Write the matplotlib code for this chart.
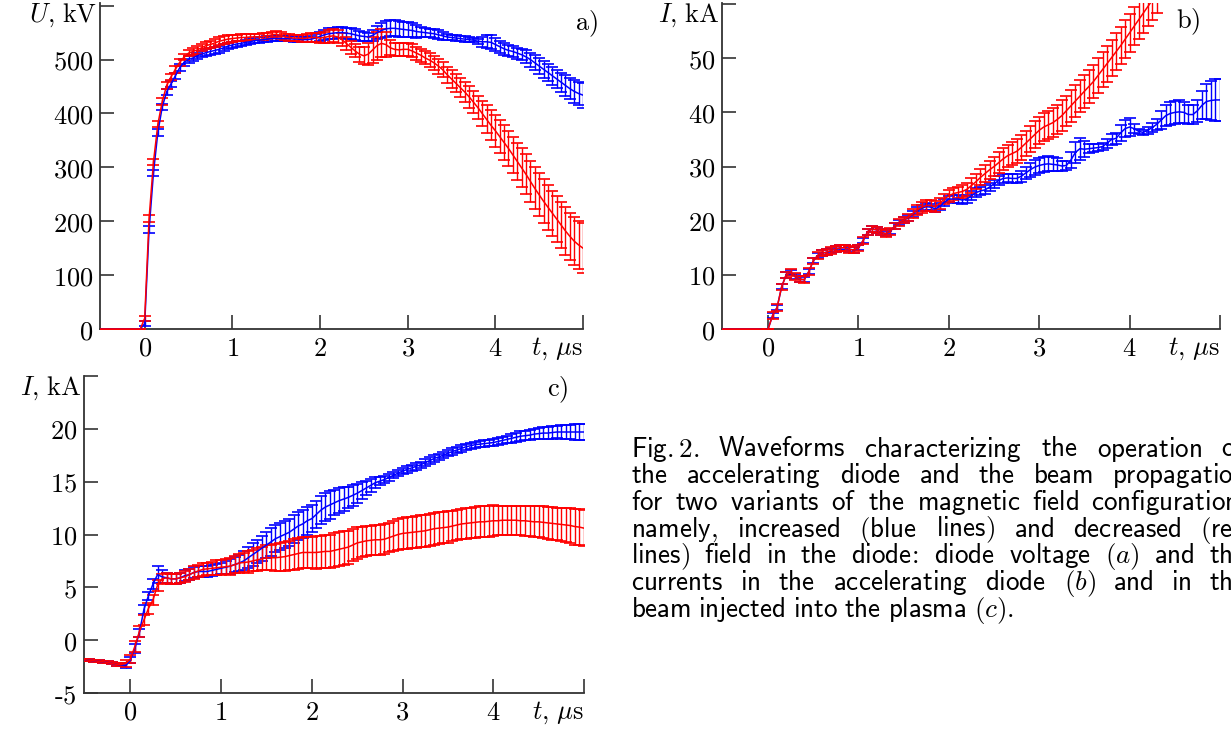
import re
import numpy as np
import matplotlib
matplotlib.use('Agg')
import matplotlib.pyplot as plt

plt.rcParams['mathtext.fontset'] = 'cm'
plt.rcParams['font.family'] = 'DejaVu Serif'

# time grid, microseconds (-0.65 ... 5.0, step 0.05)
t = np.round(np.arange(-0.65, 5.001, 0.05), 2)

# a) diode voltage, kV
u_blue = [0, 0, 0, 0, 0, 0, 0, 0, 0, 0, 0, 0, 0, 10,
          185, 290, 365, 412, 440, 455, 470, 485, 495, 500,
          503, 507, 510, 513, 515, 517, 519, 522, 525, 527,
          529, 530, 532, 533, 535, 536, 537, 538, 539, 539,
          539, 539, 539, 538, 538, 537, 537, 538, 540, 543,
          546, 548, 549, 550, 550, 549, 548, 546, 544, 543,
          542, 545, 550, 554, 557, 558, 558, 557, 556, 555,
          554, 552, 551, 550, 549, 548, 546, 544, 542, 541,
          540, 539, 538, 537, 536, 534, 533, 533, 532, 528,
          524, 520, 517, 515, 512, 509, 505, 500, 494, 488,
          482, 476, 470, 464, 458, 452, 446, 441, 437, 434]
u_blue_err = [0, 0, 0, 0, 0, 0, 0, 0, 0, 0, 0, 0, 0, 4,
              6, 6, 6, 6, 6, 6, 6, 6, 6, 6,
              6, 6, 6, 6, 6, 6, 6, 6, 6, 6,
              5, 5, 5, 5, 5, 5, 5, 5, 5, 5,
              5, 5, 5, 5, 5, 5, 5, 6, 7, 8,
              9, 10, 10, 10, 10, 10, 10, 10, 9, 8,
              8, 10, 12, 14, 15, 15, 15, 15, 14, 14,
              13, 12, 9, 8, 8, 8, 8, 8, 6, 5,
              5, 5, 5, 4, 4, 5, 9, 12, 13, 12,
              11, 11, 10, 10, 10, 10, 12, 13, 14, 15,
              16, 16, 17, 17, 18, 19, 20, 21, 22, 23]
u_red = [0, 0, 0, 0, 0, 0, 0, 0, 0, 0, 0, 0, 0, 20,
         205, 310, 380, 422, 452, 468, 482, 495, 505, 512,
         515, 518, 522, 526, 528, 531, 534, 536, 538, 539,
         540, 541, 541, 542, 542, 542, 543, 544, 546, 547,
         545, 542, 541, 540, 540, 539, 540, 541, 541, 540,
         541, 543, 544, 542, 537, 530, 523, 516, 510, 507,
         510, 518, 526, 530, 528, 522, 519, 518, 519, 519,
         516, 512, 508, 503, 499, 494, 488, 481, 472, 464,
         456, 448, 440, 431, 421, 411, 400, 389, 378, 368,
         357, 346, 335, 323, 311, 299, 287, 274, 261, 249,
         237, 226, 215, 204, 193, 182, 172, 163, 156, 150]
u_red_err = [0, 0, 0, 0, 0, 0, 0, 0, 0, 0, 0, 0, 0, 5,
             6, 6, 6, 6, 6, 6, 6, 6, 6, 6,
             7, 7, 7, 7, 7, 7, 7, 7, 7, 7,
             6, 6, 6, 6, 6, 6, 6, 6, 6, 6,
             6, 6, 6, 6, 6, 6, 7, 8, 9, 10,
             11, 12, 12, 12, 12, 12, 12, 12, 14, 16,
             20, 24, 26, 26, 24, 14, 12, 12, 12, 12,
             12, 12, 12, 12, 13, 13, 14, 14, 15, 16,
             17, 18, 19, 20, 21, 22, 24, 26, 28, 30,
             31, 32, 33, 34, 35, 36, 37, 38, 39, 40,
             41, 42, 42, 43, 43, 44, 44, 45, 45, 46]

# b) diode current, kA
ib_blue = [0, 0, 0, 0, 0, 0, 0, 0, 0, 0, 0, 0, -0.2, 0.0,
           2.5, 4.0, 7.8, 10.0, 10.4, 9.7, 9.2, 9.1, 10.6, 12.6,
           13.6, 14.0, 14.2, 14.5, 14.8, 15.0, 15.0, 14.7, 14.6, 15.0,
           16.3, 17.9, 18.5, 18.3, 17.9, 17.6, 18.0, 19.0, 19.7, 20.1,
           20.5, 21.2, 21.9, 22.3, 22.6, 22.5, 22.2, 22.6, 23.4, 24.0,
           24.0, 24.0, 23.8, 24.0, 24.6, 25.2, 25.5, 25.7, 26.2, 26.8,
           27.4, 27.8, 27.9, 27.8, 27.8, 28.2, 28.8, 29.4, 29.9, 30.2,
           30.4, 30.5, 30.4, 30.3, 30.1, 30.2, 31.2, 32.6, 33.3, 33.2,
           33.3, 33.4, 33.5, 33.7, 34.3, 35.0, 35.2, 36.2, 37.0, 37.3,
           37.0, 36.5, 36.3, 36.7, 37.2, 37.8, 38.6, 39.4, 39.8, 40.0,
           40.1, 40.0, 39.6, 39.6, 40.3, 41.3, 42.0, 42.2, 42.3, 42.3]
ib_blue_err = [0, 0, 0, 0, 0, 0, 0, 0, 0, 0, 0, 0, 0, 0,
               0.5, 0.5, 0.5, 0.5, 0.5, 0.5, 0.5, 0.5, 0.5, 0.5,
               0.5, 0.5, 0.5, 0.5, 0.5, 0.5, 0.5, 0.5, 0.5, 0.5,
               0.5, 0.5, 0.5, 0.5, 0.5, 0.5, 0.5, 0.5, 0.5, 0.5,
               0.6, 0.6, 0.6, 0.6, 0.6, 0.6, 0.6, 0.6, 0.6, 0.6,
               0.7, 0.7, 0.7, 0.7, 0.8, 0.8, 0.8, 0.8, 0.8, 0.8,
               0.8, 0.8, 0.8, 0.8, 0.9, 1.0, 1.1, 1.3, 1.4, 1.4,
               1.4, 1.4, 1.3, 1.2, 1.0, 0.8, 1.5, 2.0, 2.0, 1.5,
               0.8, 0.7, 0.7, 0.7, 0.8, 1.0, 1.0, 1.4, 1.6, 1.6,
               0.8, 0.5, 0.5, 0.6, 0.8, 1.0, 1.6, 2.0, 2.1, 2.1,
               2.1, 2.0, 1.8, 1.8, 2.0, 2.6, 3.2, 3.6, 3.8, 3.8]
nan = np.nan
ib_red = [0, 0, 0, 0, 0, 0, 0, 0, 0, 0, 0, 0, -0.2, 0.0,
          2.5, 4.0, 7.8, 10.0, 10.4, 9.7, 9.2, 9.1, 10.6, 12.6,
          13.6, 14.0, 14.2, 14.5, 14.8, 15.0, 15.0, 14.7, 14.6, 15.0,
          16.3, 17.9, 18.5, 18.3, 17.9, 17.6, 18.0, 19.0, 19.7, 20.1,
          20.6, 21.3, 22.0, 22.5, 22.8, 22.8, 22.6, 23.2, 24.0, 24.6,
          25.0, 25.2, 25.4, 25.8, 26.5, 27.2, 28.0, 28.7, 29.4, 30.0,
          30.7, 31.4, 32.0, 32.4, 32.8, 33.5, 34.3, 35.1, 35.9, 36.7,
          37.3, 37.7, 38.1, 38.7, 39.4, 40.3, 41.2, 42.1, 43.0, 43.9,
          44.8, 45.7, 46.8, 47.9, 49.0, 50.1, 51.2, 52.3, 53.5, 54.7,
          55.9, 57.1, 58.3, 59.5, 60.7, 61.9, nan, nan, nan, nan,
          nan, nan, nan, nan, nan, nan, nan, nan, nan, nan]
ib_red_err = [0, 0, 0, 0, 0, 0, 0, 0, 0, 0, 0, 0, 0, 0,
              0.6, 0.6, 0.6, 0.6, 0.6, 0.6, 0.6, 0.6, 0.6, 0.6,
              0.6, 0.6, 0.6, 0.6, 0.6, 0.6, 0.6, 0.6, 0.6, 0.6,
              0.6, 0.6, 0.6, 0.6, 0.6, 0.6, 0.6, 0.6, 0.6, 0.6,
              0.7, 0.8, 0.9, 1.0, 1.0, 1.0, 1.0, 1.0, 1.0, 1.1,
              1.1, 1.1, 1.2, 1.2, 1.3, 1.4, 1.5, 1.6, 1.7, 1.8,
              1.9, 2.0, 2.0, 2.1, 2.2, 2.3, 2.3, 2.4, 2.5, 2.5,
              2.6, 2.6, 2.7, 2.7, 2.8, 2.8, 2.9, 2.9, 3.0, 3.0,
              3.1, 3.1, 3.2, 3.2, 3.3, 3.3, 3.4, 3.4, 3.5, 3.5,
              3.5, 3.5, 3.6, 3.6, 3.6, 3.6, nan, nan, nan, nan,
              nan, nan, nan, nan, nan, nan, nan, nan, nan, nan]

# c) beam current injected into the plasma, kA
ic_blue = [-1.8, -1.8, -1.85, -1.85, -1.9, -1.95, -2.0, -2.05, -2.1, -2.2, -2.3, -2.35, -2.4, -1.9,
           -0.8, 0.7, 2.9, 4.2, 5.3, 6.2, 6.0, 5.9, 5.8, 5.8,
           5.9, 6.1, 6.2, 6.4, 6.5, 6.5, 6.5, 6.6, 6.7, 6.8,
           6.9, 7.0, 7.15, 7.3, 7.5, 7.8, 8.1, 8.4, 8.7, 9.0,
           9.3, 9.6, 9.8, 10.0, 10.2, 10.5, 10.8, 11.0, 11.3, 11.5,
           11.9, 12.3, 12.6, 12.8, 13.0, 13.2, 13.35, 13.5, 13.7, 13.9,
           14.15, 14.4, 14.65, 14.9, 15.05, 15.2, 15.4, 15.6, 15.8, 16.0,
           16.15, 16.3, 16.45, 16.6, 16.8, 17.0, 17.2, 17.35, 17.5, 17.7,
           17.85, 18.0, 18.15, 18.3, 18.4, 18.5, 18.55, 18.6, 18.65, 18.7,
           18.8, 18.9, 19.0, 19.1, 19.2, 19.3, 19.35, 19.4, 19.5, 19.55,
           19.6, 19.6, 19.65, 19.7, 19.7, 19.7, 19.7, 19.7, 19.7, 19.7]
ic_blue_err = [0.1, 0.1, 0.1, 0.1, 0.1, 0.1, 0.1, 0.1, 0.1, 0.1, 0.1, 0.1, 0.2, 0.3,
               0.4, 0.4, 0.4, 0.4, 0.5, 0.8, 0.6, 0.5, 0.5, 0.5,
               0.5, 0.5, 0.5, 0.5, 0.5, 0.5, 0.5, 0.5, 0.5, 0.5,
               0.6, 0.7, 0.7, 0.8, 0.9, 1.0, 1.1, 1.1, 1.2, 1.2,
               1.3, 1.3, 1.3, 1.3, 1.3, 1.3, 1.3, 1.3, 1.3, 1.3,
               1.3, 1.3, 1.3, 1.3, 1.2, 1.2, 1.1, 1.0, 1.0, 0.9,
               0.8, 0.7, 0.6, 0.5, 0.4, 0.35, 0.3, 0.3, 0.3, 0.3,
               0.3, 0.3, 0.3, 0.3, 0.3, 0.3, 0.3, 0.3, 0.3, 0.3,
               0.3, 0.3, 0.3, 0.3, 0.3, 0.3, 0.3, 0.3, 0.3, 0.3,
               0.3, 0.35, 0.35, 0.4, 0.4, 0.45, 0.45, 0.5, 0.5, 0.5,
               0.55, 0.55, 0.6, 0.6, 0.65, 0.7, 0.7, 0.75, 0.75, 0.75]
ic_red = [-1.8, -1.8, -1.85, -1.85, -1.9, -1.95, -2.0, -2.05, -2.1, -2.2, -2.3, -2.3, -2.2, -1.8,
          -0.6, 0.8, 1.9, 3.0, 3.8, 5.2, 5.8, 5.9, 5.8, 5.8,
          5.9, 6.0, 6.2, 6.4, 6.55, 6.7, 6.75, 6.8, 6.85, 6.9,
          6.95, 7.0, 7.15, 7.3, 7.35, 7.4, 7.5, 7.6, 7.7, 7.8,
          7.8, 7.8, 7.85, 7.9, 8.0, 8.1, 8.2, 8.3, 8.3, 8.3,
          8.3, 8.35, 8.4, 8.4, 8.5, 8.6, 8.7, 8.8, 9.0, 9.2,
          9.3, 9.4, 9.45, 9.5, 9.5, 9.55, 9.7, 9.85, 10.0, 10.1,
          10.15, 10.2, 10.25, 10.3, 10.35, 10.45, 10.55, 10.6, 10.65, 10.7,
          10.8, 10.9, 11.0, 11.05, 11.1, 11.15, 11.2, 11.2, 11.25, 11.3,
          11.3, 11.35, 11.35, 11.35, 11.35, 11.3, 11.3, 11.25, 11.2, 11.2,
          11.15, 11.1, 11.05, 11.0, 10.95, 10.9, 10.85, 10.75, 10.7, 10.6]
ic_red_err = [0.1, 0.1, 0.1, 0.1, 0.1, 0.1, 0.1, 0.1, 0.1, 0.1, 0.1, 0.1, 0.3, 0.4,
              0.5, 0.5, 0.5, 0.5, 0.5, 0.5, 0.5, 0.5, 0.5, 0.5,
              0.5, 0.5, 0.5, 0.6, 0.6, 0.6, 0.6, 0.6, 0.7, 0.7,
              0.7, 0.8, 0.8, 0.9, 0.9, 1.0, 1.0, 1.1, 1.1, 1.2,
              1.2, 1.3, 1.3, 1.4, 1.4, 1.5, 1.5, 1.5, 1.5, 1.5,
              1.55, 1.55, 1.55, 1.6, 1.6, 1.6, 1.6, 1.55, 1.5, 1.5,
              1.45, 1.45, 1.4, 1.4, 1.4, 1.4, 1.4, 1.4, 1.45, 1.45,
              1.5, 1.5, 1.5, 1.5, 1.5, 1.5, 1.5, 1.5, 1.5, 1.5,
              1.45, 1.45, 1.45, 1.45, 1.45, 1.45, 1.45, 1.45, 1.45, 1.45,
              1.35, 1.35, 1.35, 1.35, 1.35, 1.35, 1.4, 1.4, 1.45, 1.45,
              1.5, 1.5, 1.55, 1.55, 1.6, 1.6, 1.65, 1.7, 1.7, 1.7]

caption = [
    "Fig.2. Waveforms characterizing the operation of",
    "the accelerating diode and the beam propagation",
    "for two variants of the magnetic field configuration,",
    "namely, increased (blue lines) and decreased (red",
    "lines) field in the diode: diode voltage (a) and the",
    "currents in the accelerating diode (b) and in the",
    "beam injected into the plasma (c).",
]

W, H = 1231, 730
BLUE, RED, AXC = '#0000ff', '#ff0000', '#333333'
FS = 19

fig = plt.figure(figsize=(W / 100, H / 100), dpi=100)


def add_ax(left, top, right, bottom):
    return fig.add_axes([left / W, 1 - bottom / H, (right - left) / W, (bottom - top) / H])


def num(v):
    return r'$\text{-}%d$' % -v if v < 0 else r'$%d$' % v


def setup(ax, ylim, yticks, ylab, tag, tag_xy):
    ax.set_xlim(-0.51, 5.0)
    ax.set_ylim(*ylim)
    for s in ('top', 'right'):
        ax.spines[s].set_visible(False)
    for s in ('left', 'bottom'):
        ax.spines[s].set_linewidth(1.3)
        ax.spines[s].set_color(AXC)
    ax.set_xticks([0, 1, 2, 3, 4, 5], [num(v) for v in range(5)] + [''])
    ax.set_yticks(yticks, [num(v) for v in yticks[:-1]] + [''])
    ax.tick_params(direction='in', length=10, width=1.2, color=AXC, labelsize=FS, pad=5)
    ax.annotate(ylab, (0, 1), xycoords='axes fraction', xytext=(-2, 1),
                textcoords='offset points', ha='right', va='top', fontsize=FS)
    ax.annotate(r'$t\mathrm{,}\ \mu\mathrm{s}$', (1, 0), xycoords='axes fraction',
                xytext=(0, -5), textcoords='offset points', ha='right', va='top', fontsize=FS)
    fig.text(tag_xy[0] / W, 1 - tag_xy[1] / H, r'$\mathrm{%s)}$' % tag,
             ha='center', va='center', fontsize=FS)


def draw(ax, y, e, color):
    ax.errorbar(t, y, yerr=e, color=color, lw=1.1, elinewidth=1.0,
                capsize=4.5, capthick=1.2, zorder=3)


ax_a = add_ax(100, 3, 583, 329)
ax_b = add_ax(722, 3, 1220, 329)
ax_c = add_ax(84, 376, 584, 693)

draw(ax_a, u_blue, u_blue_err, BLUE)
draw(ax_a, u_red, u_red_err, RED)
setup(ax_a, (0, 605), [0, 100, 200, 300, 400, 500, 600],
      r'$U\mathrm{,}\ \mathrm{kV}$', 'a', (586, 24))

draw(ax_b, ib_blue, ib_blue_err, BLUE)
draw(ax_b, ib_red, ib_red_err, RED)
setup(ax_b, (0, 60.2), [0, 10, 20, 30, 40, 50, 60],
      r'$I\mathrm{,}\ \mathrm{kA}$', 'b', (1188, 22))

draw(ax_c, ic_blue, ic_blue_err, BLUE)
draw(ax_c, ic_red, ic_red_err, RED)
setup(ax_c, (-5, 25), [-5, 0, 5, 10, 15, 20, 25],
      r'$I\mathrm{,}\ \mathrm{kA}$', 'c', (558, 390))


# caption, set word by word so the lines can be justified
def token(word):
    m = re.match(r'^\((\w)\)(\.?)$', word)
    if m:
        return r'$\mathsf{(}%s\mathsf{)%s}$' % (m.group(1), m.group(2))
    return r'$\mathsf{%s}$' % word.replace(',', r',\!').replace(':', r'\!:')


x0, x1 = 631, 1246
base0, step = 456.5, 26.7
renderer = fig.canvas.get_renderer()
for i, line in enumerate(caption):
    words = line.split()
    texts = [fig.text(0, 0, token(w), fontsize=19.5, va='baseline', ha='left') for w in words]
    widths = [tx.get_window_extent(renderer).width for tx in texts]
    if i < len(caption) - 1:
        gap = (x1 - x0 - sum(widths)) / (len(words) - 1)
    else:
        gap = 7
    x = x0
    y = base0 + i * step
    for tx, w in zip(texts, widths):
        tx.set_position((x / W, 1 - y / H))
        x += w + gap

fig.savefig('out.png', dpi=100)
